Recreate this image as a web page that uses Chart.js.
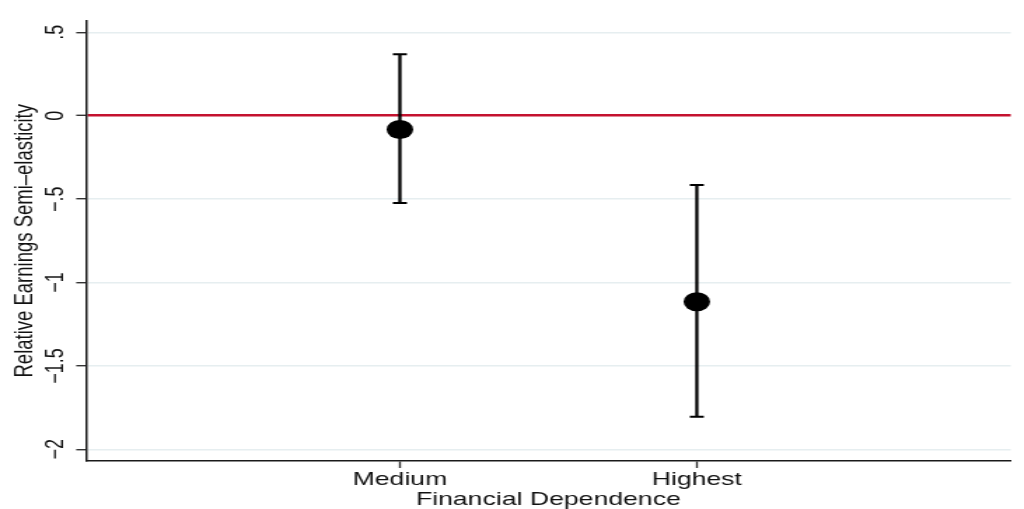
<!DOCTYPE html>
<html>
<head>
<meta charset="utf-8">
<script src="https://cdn.jsdelivr.net/npm/chart.js@4.4.0/dist/chart.umd.min.js"></script>
<style>
  html, body { margin: 0; padding: 0; background: #fff; overflow: hidden; }
  /* the graph is laid out on a narrower canvas and widened horizontally */
  #wrap { width: 731px; height: 509px; transform: scaleX(1.40082); transform-origin: 0 0; }
  canvas { display: block; }
</style>
</head>
<body>
<div id="wrap"><canvas id="c" width="731" height="509"></canvas></div>
<script>
// Point estimates with confidence intervals by financial dependence group
const categories = ['Medium', 'Highest'];
const catPos = [1, 2];
const estimates = [-0.083, -1.115];
const upperCI = [0.368, -0.415];
const lowerCI = [-0.523, -1.805];

const yTickValues = [0.5, 0, -0.5, -1, -1.5, -2];
const yTickLabels = ['.5', '0', '\u2212.5', '\u22121', '\u22121.5', '\u22122'];

const FONT = '"Liberation Sans", Arial, Helvetica, sans-serif';
const RED = '#c4122f';
const GRID = '#e6eef0';
const INK = '#111';

// confidence interval whiskers, drawn beneath the point markers
const errorBars = {
  id: 'errorBars',
  beforeDatasetsDraw(chart) {
    const { ctx, scales: { x, y } } = chart;
    ctx.save();
    ctx.strokeStyle = '#000';
    ctx.lineCap = 'butt';
    catPos.forEach((p, i) => {
      const px = x.getPixelForValue(p);
      const top = y.getPixelForValue(upperCI[i]);
      const bot = y.getPixelForValue(lowerCI[i]);
      ctx.lineWidth = 2.3;
      ctx.beginPath();
      ctx.moveTo(px, top);
      ctx.lineTo(px, bot);
      ctx.stroke();
      ctx.lineWidth = 2;
      ctx.beginPath();
      ctx.moveTo(px - 5, top); ctx.lineTo(px + 5, top);
      ctx.moveTo(px - 5, bot); ctx.lineTo(px + 5, bot);
      ctx.stroke();
    });
    ctx.restore();
  }
};

// vertical-axis labels and title, set upright along the axis
const yAxisText = {
  id: 'yAxisText',
  afterDraw(chart) {
    const { ctx, scales: { y } } = chart;
    ctx.save();
    ctx.fillStyle = INK;
    ctx.textAlign = 'center';
    ctx.textBaseline = 'alphabetic';
    ctx.font = '18px ' + FONT;
    yTickValues.forEach((v, i) => {
      const py = y.getPixelForValue(v);
      ctx.save();
      ctx.translate(45, py);
      ctx.rotate(-Math.PI / 2);
      ctx.fillText(yTickLabels[i], 0, 0);
      ctx.restore();
    });
    ctx.font = '18.5px ' + FONT;
    ctx.translate(23.2, (y.top + y.bottom) / 2);
    ctx.rotate(-Math.PI / 2);
    ctx.fillText('Relative Earnings Semi\u2013elasticity', 0, 0);
    ctx.restore();
  }
};

new Chart(document.getElementById('c'), {
  type: 'scatter',
  data: {
    datasets: [{
      data: catPos.map((x, i) => ({ x, y: estimates[i] })),
      pointRadius: 9.5,
      pointHoverRadius: 9.5,
      backgroundColor: '#000',
      borderWidth: 0
    }]
  },
  options: {
    responsive: false,
    animation: false,
    devicePixelRatio: 1,
    layout: { padding: { left: 0, right: 6.4, top: 20.5, bottom: 0 } },
    plugins: { legend: { display: false }, tooltip: { enabled: false } },
    scales: {
      x: {
        type: 'linear',
        min: -0.057,
        max: 3.057,
        afterBuildTicks: s => { s.ticks = catPos.map(v => ({ value: v })); },
        afterFit: s => { s.height = 48; },
        ticks: {
          callback: v => { const k = catPos.indexOf(v); return k >= 0 ? categories[k] : ''; },
          font: { family: FONT, size: 19 },
          color: INK,
          padding: 0,
          maxRotation: 0,
          minRotation: 0,
          autoSkip: false
        },
        grid: { drawOnChartArea: false, drawTicks: true, tickLength: 7, tickColor: '#333', tickWidth: 1.4 },
        border: { display: true, color: '#1a1a1a', width: 1.5 },
        title: {
          display: true,
          text: 'Financial Dependence',
          font: { family: FONT, size: 19, lineHeight: 1 },
          color: INK,
          padding: { top: 0, bottom: 0 }
        }
      },
      y: {
        type: 'linear',
        min: -2.07,
        max: 0.571,
        afterBuildTicks: s => { s.ticks = yTickValues.map(v => ({ value: v })); },
        afterFit: s => { s.width = 61.4; },
        ticks: { display: false },
        grid: {
          color: c => (c.tick && c.tick.value === 0 ? RED : GRID),
          lineWidth: c => (c.tick && c.tick.value === 0 ? 2.6 : 1.4),
          drawTicks: true,
          tickLength: 7,
          tickColor: '#333',
          tickWidth: 1.4
        },
        border: { display: true, color: '#1a1a1a', width: 1.5 }
      }
    }
  },
  plugins: [errorBars, yAxisText]
});
</script>
</body>
</html>
